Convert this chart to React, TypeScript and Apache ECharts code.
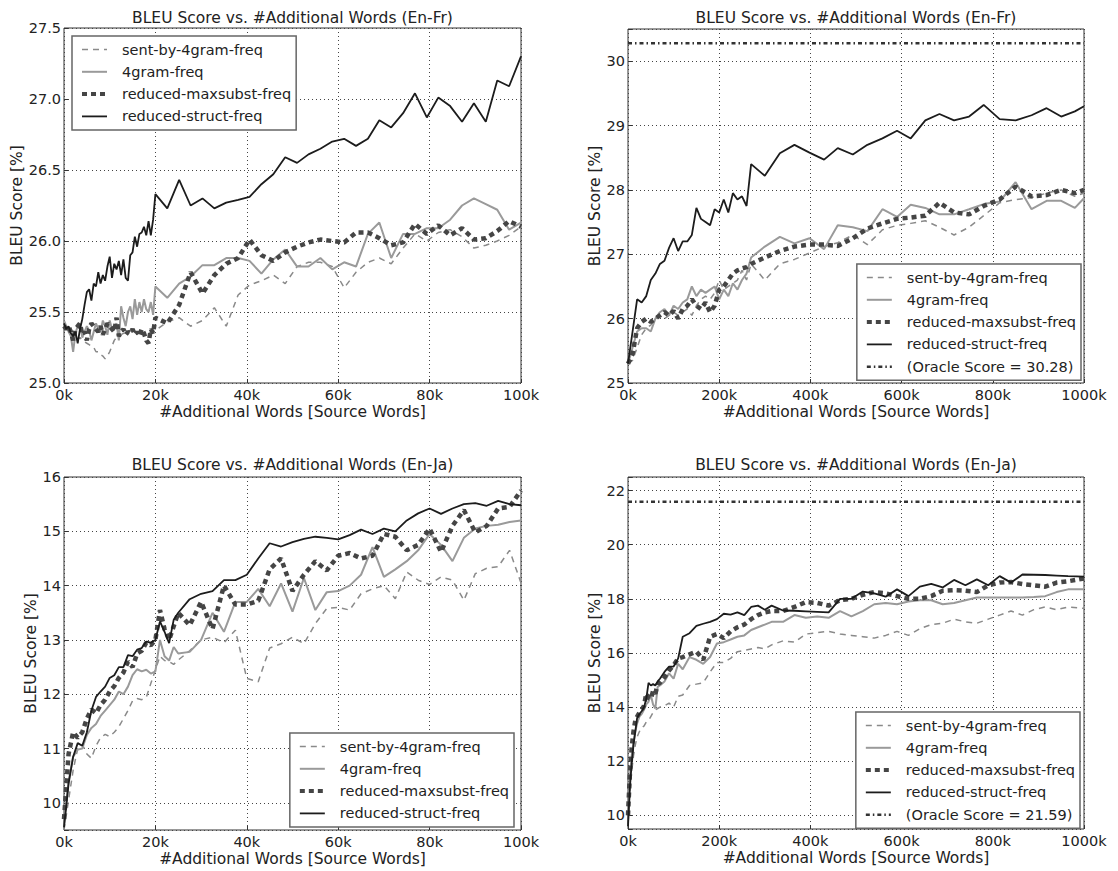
import { useEffect, useRef } from "react";
import * as echarts from "echarts";

const FONT = '"DejaVu Sans", "Liberation Sans", sans-serif';

const seriesNames = ["sent-by-4gram-freq", "4gram-freq", "reduced-maxsubst-freq", "reduced-struct-freq"];
const titleFr = "BLEU Score vs. #Additional Words (En-Fr)";
const titleJa = "BLEU Score vs. #Additional Words (En-Ja)";
const xAxisTitle = "#Additional Words [Source Words]";
const yAxisTitle = "BLEU Score [%]";
const oracleFr = 30.28;
const oracleJa = 21.59;

// ---------- Panel 1: En-Fr, 0-100k (x in k words) ----------
const frSmallX = [
  0, 0.5, 1, 1.5, 2, 2.5, 3, 3.5, 4, 4.5, 5, 5.5, 6, 6.5, 7, 7.5, 8, 8.5, 9, 9.5, 10,
  10.5, 11, 11.5, 12, 12.5, 13, 13.5, 14, 14.5, 15, 15.5, 16, 16.5, 17, 17.5, 18, 18.5, 19, 19.5, 20,
  22.6, 25.2, 27.7, 30.3, 32.9, 35.5, 38.1, 40.6, 43.2, 45.8, 48.4, 51.0, 53.5, 56.1, 58.7, 61.3,
  63.9, 66.5, 69.0, 71.6, 74.2, 76.8, 79.4, 81.9, 84.5, 87.1, 89.7, 92.3, 94.8, 97.4, 100,
];
const frSmallSent = [
  25.42, 25.40, 25.36, 25.34, 25.32, 25.30, 25.31, 25.32, 25.30, 25.29, 25.28, 25.27, 25.26, 25.25, 25.22, 25.22, 25.20, 25.19, 25.17, 25.19, 25.22,
  25.26, 25.30, 25.32, 25.33, 25.34, 25.35, 25.35, 25.36, 25.37, 25.37, 25.38, 25.38, 25.37, 25.36, 25.35, 25.35, 25.35, 25.36, 25.36, 25.37,
  25.43, 25.46, 25.40, 25.44, 25.53, 25.40, 25.62, 25.69, 25.72, 25.76, 25.70, 25.82, 25.85, 25.85, 25.82, 25.67,
  25.78, 25.85, 25.88, 25.84, 25.95, 26.05, 26.00, 26.06, 26.08, 26.03, 25.95, 25.97, 26.00, 26.04, 26.10,
];
const frSmall4gram = [
  25.44, 25.40, 25.36, 25.33, 25.22, 25.35, 25.40, 25.42, 25.32, 25.36, 25.40, 25.37, 25.30, 25.36, 25.42, 25.38, 25.36, 25.44, 25.40, 25.34, 25.44,
  25.38, 25.40, 25.42, 25.30, 25.54, 25.46, 25.40, 25.50, 25.54, 25.45, 25.59, 25.48, 25.57, 25.50, 25.59, 25.52, 25.50, 25.57, 25.48, 25.68,
  25.60, 25.70, 25.75, 25.83, 25.83, 25.88, 25.88, 25.86, 25.77, 25.87, 25.94, 25.82, 25.82, 25.88, 25.80, 25.85,
  25.82, 26.05, 26.13, 25.88, 26.05, 26.05, 26.09, 26.09, 26.15, 26.25, 26.30, 26.26, 26.22, 26.08, 26.13,
];
const frSmallMax = [
  25.40, 25.38, 25.40, 25.36, 25.30, 25.38, 25.40, 25.42, 25.34, 25.36, 25.30, 25.38, 25.42, 25.40, 25.38, 25.36, 25.40, 25.34, 25.38, 25.42, 25.40,
  25.38, 25.36, 25.46, 25.33, 25.36, 25.38, 25.34, 25.36, 25.35, 25.38, 25.34, 25.36, 25.33, 25.38, 25.35, 25.30, 25.28, 25.38, 25.35, 25.46,
  25.42, 25.55, 25.78, 25.63, 25.76, 25.84, 25.88, 26.01, 25.90, 25.86, 25.92, 25.96, 25.99, 26.01, 26.00, 25.99,
  26.06, 26.06, 26.02, 25.97, 25.99, 26.12, 26.05, 26.11, 26.04, 26.09, 26.01, 26.02, 26.07, 26.14, 26.10,
];
const frSmallStruct = [
  25.42, 25.38, 25.40, 25.35, 25.33, 25.36, 25.28, 25.38, 25.45, 25.55, 25.64, 25.66, 25.58, 25.70, 25.68, 25.78, 25.70, 25.76, 25.72, 25.82, 25.89,
  25.74, 25.84, 25.80, 25.86, 25.76, 25.87, 25.74, 25.72, 25.90, 25.92, 26.03, 25.96, 26.05, 26.06, 26.10, 26.04, 26.14, 26.04, 26.15, 26.33,
  26.23, 26.43, 26.25, 26.30, 26.23, 26.27, 26.29, 26.31, 26.40, 26.47, 26.59, 26.55, 26.61, 26.65, 26.70, 26.72,
  26.67, 26.72, 26.85, 26.80, 26.90, 27.04, 26.87, 27.01, 26.95, 26.84, 26.97, 26.84, 27.13, 27.09, 27.30,
];

// ---------- Panel 2: En-Fr, 0-1000k ----------
const frLargeX = [
  0, 10, 20, 30, 40, 50, 60, 70, 80, 90, 100, 110, 120, 130, 140, 150, 160, 170, 180, 190, 200, 210, 220, 230, 240, 250, 260, 270,
  300, 333, 365, 398, 430, 460, 493, 525, 558, 590, 620, 652, 683, 715, 748, 780, 815, 850, 885, 918, 950, 980, 1000,
];
const frLargeSent = [
  25.3, 25.35, 25.55, 25.75, 25.85, 25.9, 26.0, 26.05, 26.0, 26.05, 26.1, 26.05, 26.1, 26.15, 26.05, 26.2, 26.3, 26.35, 26.3, 26.4, 26.6, 26.45, 26.5, 26.55, 26.6, 26.75, 26.6, 26.85,
  26.6, 26.85, 26.92, 27.02, 27.12, 27.18, 27.3, 27.15, 27.38, 27.45, 27.48, 27.52, 27.42, 27.30, 27.42, 27.6, 27.8, 27.85, 27.88, 27.95, 28.0, 27.9, 27.95,
];
const frLarge4gram = [
  25.3, 25.55, 25.8, 25.85, 25.85, 25.8, 26.0, 26.1, 26.15, 26.05, 26.2, 26.15, 26.25, 26.3, 26.5, 26.35, 26.45, 26.4, 26.45, 26.5, 26.3, 26.45, 26.35, 26.55, 26.45, 26.6, 26.7, 26.95,
  27.12, 27.27, 27.17, 27.25, 27.08, 27.45, 27.42, 27.36, 27.7, 27.58, 27.77, 27.72, 27.62, 27.62, 27.70, 27.78, 27.82, 28.12, 27.70, 27.83, 27.83, 27.72, 27.87,
];
const frLargeMax = [
  25.3, 25.45, 25.85, 25.95, 26.0, 25.95, 26.0, 26.05, 26.1, 26.05, 26.12, 26.0, 26.15, 26.2, 26.3, 26.2, 26.15, 26.25, 26.1, 26.2, 26.45, 26.5, 26.6, 26.7, 26.75, 26.78, 26.8, 26.85,
  26.95, 27.05, 27.12, 27.15, 27.15, 27.13, 27.25, 27.40, 27.48, 27.55, 27.57, 27.60, 27.80, 27.65, 27.62, 27.75, 27.85, 28.05, 27.90, 27.92, 28.00, 27.95, 28.00,
];
const frLargeStruct = [
  25.3, 25.8, 26.3, 26.25, 26.35, 26.6, 26.7, 26.85, 26.9, 27.1, 27.25, 27.05, 27.2, 27.2, 27.3, 27.72, 27.55, 27.5, 27.45, 27.7, 27.65, 27.85, 27.65, 27.95, 27.85, 27.9, 27.75, 28.4,
  28.22, 28.57, 28.70, 28.58, 28.47, 28.65, 28.55, 28.70, 28.80, 28.92, 28.80, 29.08, 29.18, 29.08, 29.14, 29.32, 29.10, 29.08, 29.16, 29.27, 29.14, 29.22, 29.30,
];

// ---------- Panel 3: En-Ja, 0-100k ----------
const jaSmallX = [
  0, 1, 2, 3, 4, 5, 6, 7, 8, 9, 10, 11, 12, 13, 14, 15, 16, 17, 18, 19, 20, 21, 22, 23, 24, 25,
  27.5, 30, 32.5, 35, 37.5, 40, 42.5, 45, 47.5, 50, 52.5, 55, 57.5, 60, 62.5, 65, 67.5, 70, 72.5, 75,
  77.5, 80, 82.5, 85, 87.5, 90, 92.5, 95, 97.5, 100,
];
const jaSmallSent = [
  9.5, 10.05, 10.6, 11.0, 11.08, 10.9, 10.82, 11.05, 11.2, 11.26, 11.22, 11.3, 11.4, 11.55, 11.7, 11.88, 11.92, 11.9, 11.94, 12.2, 12.45, 12.7, 12.62, 12.6, 12.55, 12.63,
  12.8, 13.0, 13.05, 12.95, 13.18, 12.29, 12.23, 12.85, 12.93, 13.05, 12.93, 13.3, 13.58, 13.6, 13.55, 13.85, 13.94, 14.0, 13.76, 14.25,
  14.1, 14.02, 14.16, 14.1, 13.73, 14.22, 14.32, 14.35, 14.65, 14.05,
];
const jaSmall4gram = [
  9.6, 10.4, 10.85, 10.98, 11.0, 11.25, 11.38, 11.45, 11.6, 11.7, 11.8, 11.9, 12.05, 12.0, 12.14, 12.35, 12.46, 12.42, 12.45, 12.38, 12.42, 13.0, 12.7, 12.62, 12.87, 12.75,
  12.78, 13.0, 13.5, 13.15, 13.7, 13.7, 13.94, 13.62, 14.04, 13.52, 14.14, 13.55, 13.88, 13.9, 14.0, 14.2, 14.71, 14.16, 14.3, 14.45,
  14.65, 14.95, 14.75, 14.45, 14.88, 15.05, 15.1, 15.12, 15.17, 15.2,
];
const jaSmallMax = [
  9.7, 10.9, 11.3, 11.2, 11.3, 11.55, 11.72, 11.65, 11.8, 11.9, 12.05, 12.15, 12.3, 12.4, 12.6, 12.5, 12.75, 12.8, 12.95, 12.9, 13.0, 13.55, 13.2, 13.0, 13.25, 13.5,
  13.27, 13.7, 13.2, 14.0, 13.65, 13.65, 13.72, 14.3, 14.5, 13.9, 14.2, 14.45, 14.28, 14.55, 14.6, 14.5, 14.55, 14.95, 14.9, 14.65,
  14.75, 15.05, 14.62, 15.1, 15.39, 14.98, 15.1, 15.42, 15.45, 15.75,
];
const jaSmallStruct = [
  9.55, 10.35, 10.85, 11.1, 11.05, 11.3, 11.7, 11.95, 12.05, 12.14, 12.3, 12.35, 12.5, 12.5, 12.72, 12.7, 12.82, 12.85, 12.97, 12.95, 13.0, 13.34, 13.15, 12.94, 13.37, 13.5,
  13.75, 13.85, 13.9, 14.1, 14.1, 14.2, 14.5, 14.78, 14.72, 14.80, 14.86, 14.90, 14.88, 14.85, 14.93, 15.03, 14.95, 15.05, 15.0, 15.2,
  15.33, 15.42, 15.32, 15.42, 15.50, 15.52, 15.47, 15.56, 15.50, 15.48,
];

// ---------- Panel 4: En-Ja, 0-1000k ----------
const jaLargeX = [
  0, 4, 8, 12, 16, 20, 25, 30, 35, 40, 45, 50, 55, 60, 65, 70, 80, 90, 100, 110, 120,
  135, 150, 165, 180, 195, 210, 225, 240, 255, 270, 285, 300, 315,
  340, 365, 390, 415, 440, 465, 490, 515, 540, 565, 590, 615, 640, 665, 690, 715, 740, 765, 790, 815, 840, 865, 890, 915, 940, 965,
  1000,
];
const jaLargeSent = [
  9.7, 10.8, 11.6, 12.2, 12.6, 12.9, 13.1, 13.25, 13.3, 13.45, 13.5, 13.65, 13.8, 13.9, 13.95, 14.0, 14.05, 14.15, 14.0, 14.4, 14.45,
  14.8, 14.85, 14.9, 15.3, 15.65, 15.65, 15.8, 16.05, 16.1, 16.15, 16.2, 16.15, 16.3,
  16.45, 16.4, 16.7, 16.75, 16.8, 16.7, 16.65, 16.6, 16.55, 16.65, 16.8, 16.65, 16.9, 17.05, 17.1, 17.25, 17.15, 17.1, 17.25, 17.4, 17.55, 17.4, 17.6, 17.7, 17.6, 17.7,
  17.65,
];
const jaLarge4gram = [
  9.8, 11.4, 12.2, 12.7, 13.1, 13.4, 13.65, 13.75, 13.9, 14.1, 14.2, 14.45, 14.1, 13.95, 14.75, 14.8, 14.95, 15.25, 15.05, 15.6, 15.4,
  15.85, 15.75, 15.6, 15.85, 16.35, 16.4, 16.5, 16.6, 16.65, 16.85, 16.95, 17.05, 17.15,
  17.15, 17.4, 17.3, 17.35, 17.3, 17.55, 17.35, 17.55, 17.8, 17.85, 17.8, 17.9, 17.95, 17.95, 17.8, 17.85, 17.95, 18.05, 18.05, 18.05, 18.05, 18.05, 18.07, 18.1, 18.25, 18.35,
  18.35,
];
const jaLargeMax = [
  10.0, 11.5, 12.5, 13.1, 13.5, 13.65, 13.8, 13.9, 14.05, 14.5, 14.35, 14.3, 14.6, 14.5, 14.85, 14.9, 15.1, 15.35, 15.55, 15.8, 15.85,
  15.95, 16.05, 15.75, 16.6, 16.7, 16.55, 16.8, 16.95, 17.05, 17.25, 17.4, 17.5, 17.55,
  17.55, 17.7, 17.88, 17.85, 17.75, 17.95, 18.0, 18.15, 18.25, 18.2, 18.1, 18.0, 18.0, 18.1, 18.3, 18.32, 18.3, 18.25, 18.5, 18.6, 18.62, 18.55, 18.5, 18.45, 18.6, 18.65,
  18.75,
];
const jaLargeStruct = [
  9.6, 11.0, 11.9, 12.6, 13.1, 13.6, 13.75, 13.85, 14.0, 14.3, 14.9, 14.8, 14.85, 14.8, 14.95, 15.05, 15.3, 15.5, 15.5, 15.8, 16.6,
  16.73, 17.0, 17.08, 17.15, 17.25, 17.45, 17.42, 17.5, 17.4, 17.7, 17.75, 17.6, 17.75,
  17.57, 17.56, 17.54, 17.52, 17.5, 18.0, 18.0, 18.27, 18.2, 18.08, 18.35, 18.1, 18.45, 18.55, 18.42, 18.7, 18.5, 18.72, 18.5, 18.84, 18.6, 18.9, 18.89, 18.88, 18.86, 18.84,
  18.82,
];

const lineStyles = [
  { color: "#8a8a8a", width: 1.5, type: [6, 5] as any },
  { color: "#9a9a9a", width: 2, type: "solid" as any },
  { color: "#454545", width: 4.5, type: [5, 4] as any },
  { color: "#1c1c1c", width: 1.8, type: "solid" as any },
];
const oracleStyle = { color: "#333333", width: 2.5, type: [4, 3, 1.5, 3] as any };

type Panel = {
  grid: { left: number; top: number; width: number; height: number };
  title: string;
  titleTop: number;
  x: number[];
  ys: number[][];
  xMax: number;
  xInterval: number;
  yMin: number;
  yMax: number;
  yInterval?: number;
  ySplit?: number;
  yFmt: (v: number) => string;
  yNameGap: number;
  legend: any;
  oracle: number | null;
};

const intFmt = (v: number) => (Math.abs(v - Math.round(v)) < 1e-9 ? String(Math.round(v)) : "");

const panels: Panel[] = [
  {
    grid: { left: 64, top: 28, width: 457, height: 355 },
    title: titleFr, titleTop: 10,
    x: frSmallX, ys: [frSmallSent, frSmall4gram, frSmallMax, frSmallStruct],
    xMax: 100, xInterval: 20, yMin: 25, yMax: 27.5, yInterval: 0.5,
    yFmt: (v) => v.toFixed(1), yNameGap: 38,
    legend: { left: 72, top: 36 }, oracle: null,
  },
  {
    grid: { left: 628, top: 29, width: 456, height: 354 },
    title: titleFr, titleTop: 10,
    x: frLargeX, ys: [frLargeSent, frLarge4gram, frLargeMax, frLargeStruct],
    xMax: 1000, xInterval: 200, yMin: 25, yMax: 30.5, yInterval: 1,
    yFmt: intFmt, yNameGap: 26,
    legend: { right: 37, top: 264 }, oracle: oracleFr,
  },
  {
    grid: { left: 64, top: 477, width: 457, height: 353 },
    title: titleJa, titleTop: 457,
    x: jaSmallX, ys: [jaSmallSent, jaSmall4gram, jaSmallMax, jaSmallStruct],
    xMax: 100, xInterval: 20, yMin: 9.5, yMax: 16, ySplit: 6,
    yFmt: intFmt, yNameGap: 25,
    legend: { right: 604, top: 733 }, oracle: null,
  },
  {
    grid: { left: 628, top: 477, width: 456, height: 352 },
    title: titleJa, titleTop: 457,
    x: jaLargeX, ys: [jaLargeSent, jaLarge4gram, jaLargeMax, jaLargeStruct],
    xMax: 1000, xInterval: 200, yMin: 9.5, yMax: 22.5, ySplit: 6,
    yFmt: intFmt, yNameGap: 26,
    legend: { right: 38, top: 712 }, oracle: oracleJa,
  },
];

function buildOption() {
  const textColor = "#222";
  const grid = panels.map((p) => ({
    ...p.grid,
    show: true,
    borderColor: "#333",
    borderWidth: 1,
    backgroundColor: "transparent",
    containLabel: false,
  }));
  const splitLine = { show: true, lineStyle: { color: "#444", width: 1, type: [1, 3] as any } };
  const xAxis = panels.map((p, i) => ({
    type: "value",
    gridIndex: i,
    min: 0,
    max: p.xMax,
    interval: p.xInterval,
    name: xAxisTitle,
    nameLocation: "middle",
    nameGap: 21,
    nameTextStyle: { fontFamily: FONT, fontSize: 15.5, color: textColor, lineHeight: 15 },
    axisLine: { show: false },
    axisTick: { show: true, inside: true, length: 4, lineStyle: { color: "#333" } },
    axisLabel: {
      fontFamily: FONT, fontSize: 14.5, color: textColor, margin: 5, lineHeight: 14,
      formatter: (v: number) => `${v}k`,
    },
    splitLine,
  }));
  const yAxis = panels.map((p, i) => ({
    type: "value",
    gridIndex: i,
    min: p.yMin,
    max: p.yMax,
    ...(p.yInterval ? { interval: p.yInterval } : { splitNumber: p.ySplit }),
    name: yAxisTitle,
    nameLocation: "middle",
    nameRotate: 90,
    nameGap: p.yNameGap,
    nameTextStyle: { fontFamily: FONT, fontSize: 15.5, color: textColor, lineHeight: 15 },
    axisLine: { show: false },
    axisTick: { show: true, inside: true, length: 4, lineStyle: { color: "#333" } },
    axisLabel: { fontFamily: FONT, fontSize: 14.5, color: textColor, margin: 3, lineHeight: 11, formatter: p.yFmt },
    splitLine,
  }));
  const series: any[] = [];
  panels.forEach((p, i) => {
    p.ys.forEach((ys, k) => {
      const st = lineStyles[k];
      series.push({
        type: "line",
        name: seriesNames[k],
        xAxisIndex: i,
        yAxisIndex: i,
        data: p.x.map((x, j) => [x, ys[j]]),
        symbol: "none",
        showSymbol: false,
        color: st.color,
        lineStyle: { color: st.color, width: st.width, type: st.type },
        itemStyle: { color: st.color },
        silent: true,
        z: 2 + k,
      });
    });
    if (p.oracle !== null) {
      series.push({
        type: "line",
        name: `(Oracle Score = ${p.oracle.toFixed(2)})`,
        xAxisIndex: i,
        yAxisIndex: i,
        data: [[0, p.oracle], [p.xMax, p.oracle]],
        symbol: "none",
        showSymbol: false,
        color: oracleStyle.color,
        lineStyle: { color: oracleStyle.color, width: oracleStyle.width, type: oracleStyle.type },
        itemStyle: { color: oracleStyle.color },
        silent: true,
        z: 7,
      });
    }
  });
  const hiddenSymbol = { color: "rgba(0,0,0,0)", borderWidth: 0, borderColor: "rgba(0,0,0,0)", opacity: 0 };
  const legend = panels.map((p) => {
    const names = [...seriesNames];
    const styles = [...lineStyles];
    if (p.oracle !== null) {
      names.push(`(Oracle Score = ${p.oracle.toFixed(2)})`);
      styles.push(oracleStyle);
    }
    return {
      ...p.legend,
      orient: "vertical",
      itemWidth: 25,
      itemHeight: 14,
      itemGap: 7.3,
      padding: [6, 5, 6, 8],
      backgroundColor: "#fff",
      borderColor: "#666",
      borderWidth: 1.5,
      selectedMode: false,
      itemStyle: hiddenSymbol,
      textStyle: { fontFamily: FONT, fontSize: 14.5, color: textColor, padding: [0, 0, 0, 10] },
      data: names.map((n, k) => ({
        name: n,
        lineStyle: { color: styles[k].color, width: Math.min(styles[k].width, 4), type: styles[k].type, opacity: 1 },
        itemStyle: hiddenSymbol,
      })),
      z: 10,
    };
  });
  const title = panels.map((p) => ({
    text: p.title,
    left: p.grid.left + p.grid.width / 2,
    top: p.titleTop,
    textAlign: "center",
    padding: 0,
    textStyle: { fontFamily: FONT, fontSize: 15.5, fontWeight: "normal", color: textColor, lineHeight: 16 },
  }));
  return {
    animation: false,
    backgroundColor: "#fff",
    textStyle: { fontFamily: FONT },
    title,
    grid,
    xAxis,
    yAxis,
    legend,
    series,
  };
}

export default function App() {
  const ref = useRef<HTMLDivElement>(null);
  useEffect(() => {
    if (!ref.current) return;
    const chart = echarts.init(ref.current, undefined, { renderer: "svg" });
    chart.setOption(buildOption() as any);
    return () => chart.dispose();
  }, []);
  return (
    <div
      ref={ref}
      style={{ position: "absolute", left: 0, top: 0, width: 1118, height: 871, background: "#fff" }}
    />
  );
}
